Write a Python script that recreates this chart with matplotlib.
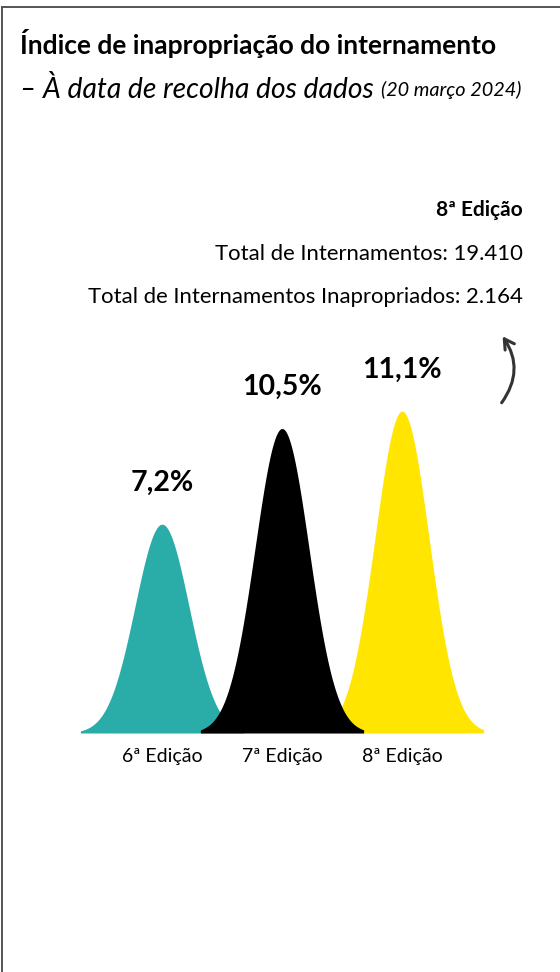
import numpy as np
import matplotlib
matplotlib.use('Agg')
import matplotlib.pyplot as plt
from matplotlib.lines import Line2D
from matplotlib.patches import FancyArrowPatch

plt.rcParams['font.family'] = ['Lato', 'DejaVu Sans']

# Data
editions = ['6ª Edição', '7ª Edição', '8ª Edição']
rates = [7.2, 10.5, 11.1]   # % inappropriate admissions
colors = ['#2AACA8', '#000000', '#FFE500']

latest_edition = '8ª Edição'
total_admissions = '19.410'
total_inappropriate = '2.164'

title = 'Índice de inapropriação do internamento'
subtitle = '– À data de recolha dos dados'
subtitle_date = '(20 março 2024)'

# Figure 560x972 px
W, H = 560, 972
fig = plt.figure(figsize=(W / 100, H / 100), dpi=100)

# frame (top and left edges only, the rest is cropped)
fig.add_artist(Line2D([1.5 / W, 1], [1 - 7.5 / H, 1 - 7.5 / H], color='#555555', lw=1.4))
fig.add_artist(Line2D([1.5 / W, 1.5 / W], [0, 1 - 7.5 / H], color='#555555', lw=1.4))

# titles
fig.text(20 / W, 1 - 43 / H, title, fontsize=19, fontweight='bold', va='center', ha='left')
t1 = fig.text(20 / W, 1 - 89 / H, subtitle, fontsize=20.3, style='italic', va='center', ha='left')
fig.canvas.draw()
bb = t1.get_window_extent()
fig.text((bb.x1 + 7) / W, 1 - 90 / H, subtitle_date, fontsize=14.3, style='italic', va='center', ha='left')

# info block on the right
fig.text(523 / W, 1 - 210 / H, latest_edition, fontsize=15, fontweight='bold', ha='right', va='center')
fig.text(523 / W, 1 - 254 / H, f'Total de Internamentos: {total_admissions}', fontsize=15.9,
         ha='right', va='center')
fig.text(523 / W, 1 - 297 / H, f'Total de Internamentos Inapropriados: {total_inappropriate}', fontsize=15.9,
         ha='right', va='center')

# curved arrow pointing at the info block
fig.add_artist(FancyArrowPatch(
    (500, H - 405), (501, H - 334), transform=None,
    connectionstyle='arc3,rad=0.37', arrowstyle='->,head_length=7,head_width=4',
    color='#333333', lw=2.2))

# bell curves
ax = fig.add_axes([0, (H - 733) / H, 1, 400 / H])
SIGMA = 0.225
HALF = 0.68
order = [0, 2, 1]   # black one sits on top of both neighbours
for i in order:
    xs = np.linspace(i - HALF, i + HALF, 400)
    ys = rates[i] * np.exp(-0.5 * ((xs - i) / SIGMA) ** 2)
    ax.fill_between(xs, 0, ys, color=colors[i], lw=0, zorder=2 + (i == 1))
    ax.annotate(f'{rates[i]:.1f}'.replace('.', ',') + '%', (i, rates[i]),
                xytext=(0, 30), textcoords='offset points', ha='center', va='center',
                fontsize=20.5, fontweight='bold')

ax.set_xlim(-162 / 120, (W - 162) / 120)
ax.set_ylim(0, 400 / 29)
ax.set_xticks(range(len(editions)))
ax.set_xticklabels(editions, fontsize=14)
ax.tick_params(axis='x', length=0, pad=11)
ax.set_yticks([])
for s in ax.spines.values():
    s.set_visible(False)
ax.patch.set_alpha(0)

fig.savefig('out.png', dpi=100)
